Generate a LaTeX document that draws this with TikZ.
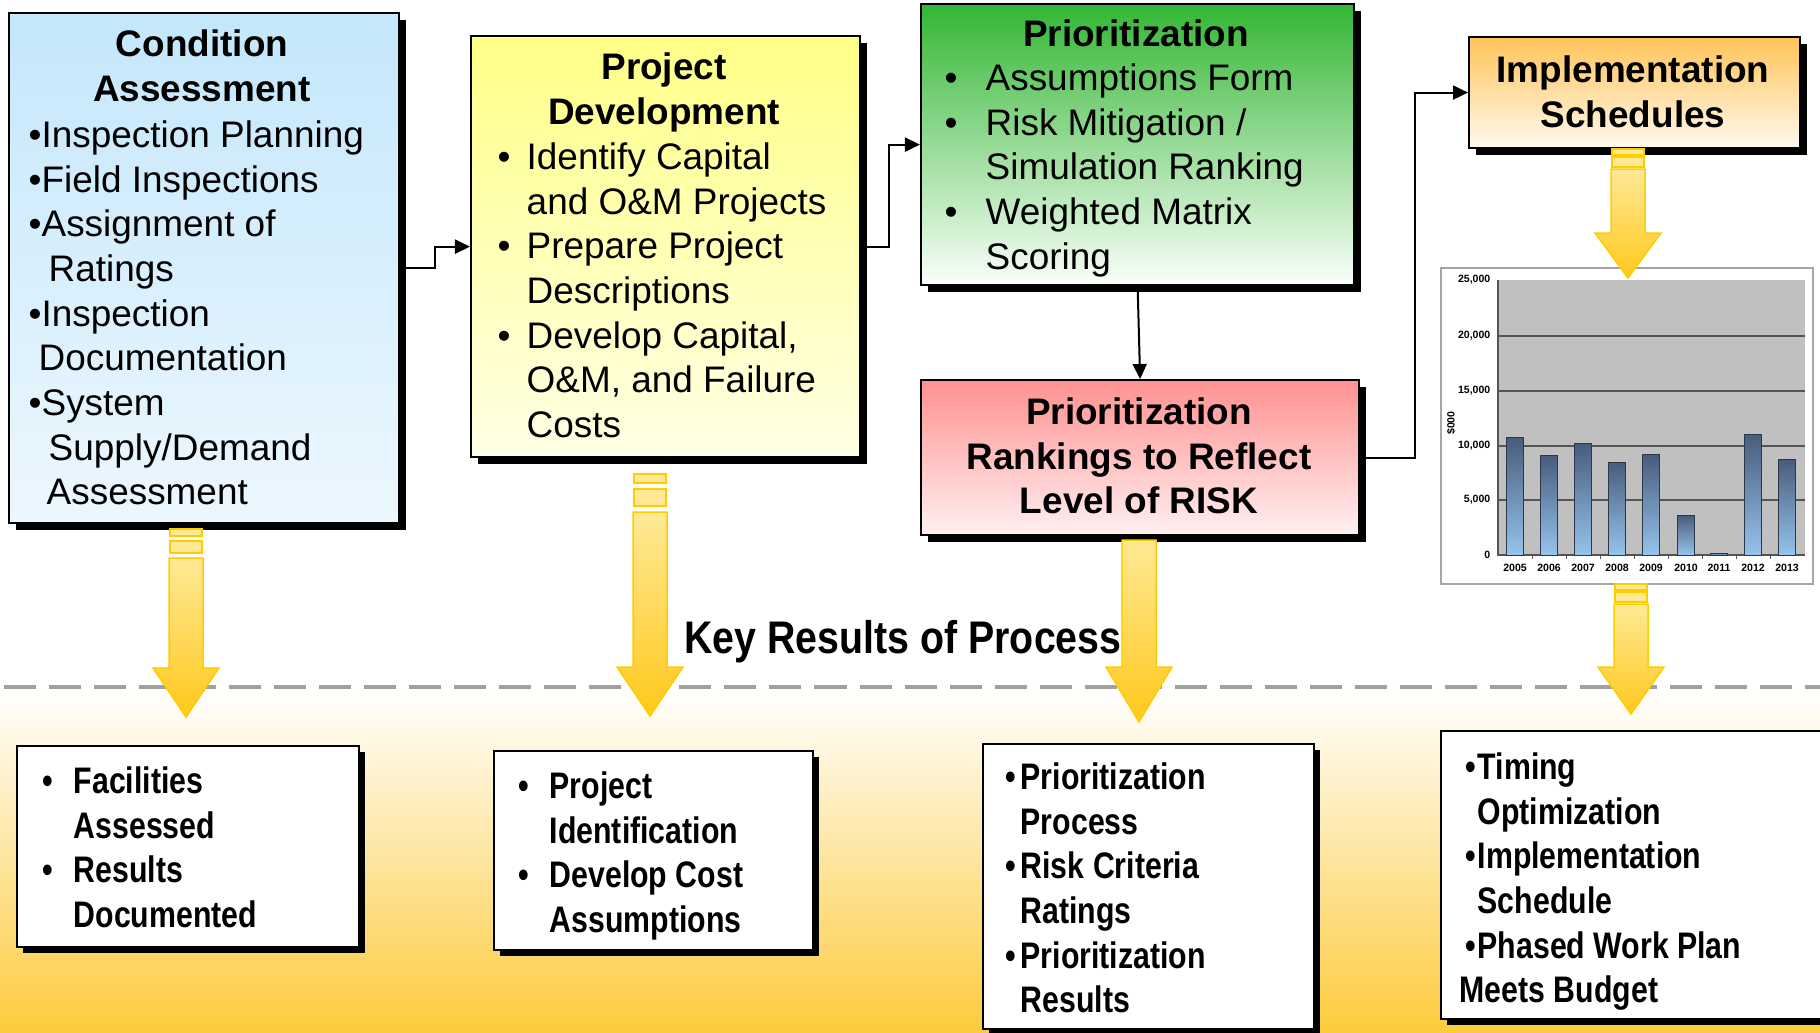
\documentclass[tikz,border=0pt]{standalone}
\usepackage{fontspec}
\setmainfont{Liberation Sans}
\newfontfamily\condfont[FakeStretch=0.82]{Liberation Sans}
\newfontfamily\keyfont[FakeStretch=0.86]{Liberation Sans}
\usetikzlibrary{arrows.meta,shadows}

\definecolor{blueTop}{RGB}{196,231,251}
\definecolor{blueBot}{RGB}{236,247,254}
\definecolor{yelTop}{RGB}{255,255,135}
\definecolor{yelBot}{RGB}{255,255,228}
\definecolor{grnTop}{RGB}{52,182,52}
\definecolor{grnBot}{RGB}{250,255,250}
\definecolor{redTop}{RGB}{255,145,145}
\definecolor{redBot}{RGB}{255,240,240}
\definecolor{orgTop}{RGB}{255,196,88}
\definecolor{orgBot}{RGB}{255,249,238}
\definecolor{arrowLight}{RGB}{255,233,150}
\definecolor{arrowGold}{RGB}{255,200,28}
\definecolor{arrowLine}{RGB}{255,204,0}
\definecolor{bgGold}{RGB}{253,203,60}
\definecolor{dashGray}{RGB}{160,160,160}
\definecolor{plotGray}{RGB}{192,192,192}
\definecolor{gridDark}{RGB}{85,85,85}
\definecolor{barTop}{RGB}{72,92,124}
\definecolor{barBot}{RGB}{150,195,236}
\definecolor{barEdge}{RGB}{45,55,75}

\newcommand\bul[1]{\makebox[#1][l]{•}}
\newcommand\yarrow[4]{\path[yarrow] (#1-17,#2) -- (#1+17,#2) -- (#1+17,#3) -- (#1+33,#3) -- (#1,#4) -- (#1-33,#3) -- (#1-17,#3) -- cycle;}
\newcommand\ystub[3]{\path[ystubstyle] (#1-16,#2) rectangle (#1+16,#3);}

\begin{document}
\begin{tikzpicture}[x=0.01cm,y=-0.01cm,
  procbox/.style={draw=black, line width=0.02cm, inner sep=0pt, anchor=north west,
    drop shadow={shadow xshift=0.065cm, shadow yshift=-0.065cm, fill=black, opacity=1}},
  resbox/.style={draw=black, line width=0.015cm, fill=white, inner sep=0pt, anchor=north west,
    drop shadow={shadow xshift=0.06cm, shadow yshift=-0.06cm, fill=black, opacity=1}},
  ttl/.style={anchor=north, align=center, inner sep=0pt, font=\bfseries\fontsize{10.5}{12.7}\selectfont},
  body/.style={anchor=north west, align=left, inner sep=0pt, font=\fontsize{10.5}{12.7}\selectfont},
  resbody/.style={anchor=north west, align=left, inner sep=0pt, font=\condfont\bfseries\fontsize{10.5}{12.7}\selectfont},
  conn/.style={draw=black, line width=0.02cm, -{Triangle[length=0.15cm,width=0.14cm]}},
  yarrow/.style={draw=arrowLine, line width=0.015cm, top color=arrowLight, bottom color=arrowGold},
  ystubstyle/.style={draw=arrowLine, line width=0.015cm, fill=arrowLight},
  ticklab/.style={inner sep=0pt, font=\bfseries\fontsize{3}{3.5}\selectfont},
  barstyle/.style={draw=barEdge, line width=0.01cm, top color=barTop, bottom color=barBot}
]
\useasboundingbox (0,0) rectangle (1820,1032);
\fill[white] (0,0) rectangle (1820,1032);
% lower band
\shade[top color=white, bottom color=bgGold] (0,690) rectangle (1820,1032);
\draw[dashGray, line width=0.035cm, dash pattern=on 0.32cm off 0.13cm] (4,687) -- (1820,687);

% process boxes
\node[procbox, top color=blueTop, bottom color=blueBot, minimum width=3.90cm, minimum height=5.10cm] (cond) at (8,12) {};
\node[procbox, top color=yelTop, bottom color=yelBot, minimum width=3.89cm, minimum height=4.21cm] (proj) at (470,35) {};
\node[procbox, top color=grnTop, bottom color=grnBot, minimum width=4.33cm, minimum height=2.81cm] (prio) at (920,3) {};
\node[procbox, top color=redTop, bottom color=redBot, minimum width=4.38cm, minimum height=1.55cm] (rank) at (920,379) {};
\node[procbox, top color=orgTop, bottom color=orgBot, minimum width=3.31cm, minimum height=1.11cm] (impl) at (1468,36) {};

% box texts
\node[ttl] (condT) at (202,29) {Condition\\Assessment};
\node[body] (condB) at (28,120) {•Inspection Planning\\•Field Inspections\\•Assignment of\\\hspace*{0.20cm}Ratings\\•Inspection\\\hspace*{0.10cm}Documentation\\•System\\\hspace*{0.20cm}Supply/Demand\\\hspace*{0.18cm}Assessment};

\node[ttl] (projT) at (664,52) {Project\\Development};
\node[body] (projB) at (497,142) {\bul{0.29cm}Identify Capital\\\hspace*{0.29cm}and O\&M Projects\\\bul{0.29cm}Prepare Project\\\hspace*{0.29cm}Descriptions\\\bul{0.29cm}Develop Capital,\\\hspace*{0.29cm}O\&M, and Failure\\\hspace*{0.29cm}Costs};

\node[ttl] (prioT) at (1136,19) {Prioritization};
\node[body] (prioB) at (944,63) {\bul{0.41cm}Assumptions Form\\\bul{0.41cm}Risk Mitigation /\\\hspace*{0.41cm}Simulation Ranking\\\bul{0.41cm}Weighted Matrix\\\hspace*{0.41cm}Scoring};

\node[ttl] (rankT) at (1139,397) {Prioritization\\Rankings to Reflect\\Level of RISK};
\node[ttl] (implT) at (1633,55) {Implementation\\Schedules};

% chart
\node[draw=gray!70, line width=0.015cm, fill=white, inner sep=0pt, anchor=north west, minimum width=3.72cm, minimum height=3.16cm] (chart) at (1440,267) {};
\fill[plotGray] (1498,280) rectangle (1805,555);
\foreach \gy in {336,391,446,500}
  \draw[gridDark, line width=0.02cm] (1498,\gy) -- (1805,\gy);
\draw[gridDark, line width=0.015cm] (1498,280) -- (1498,555) -- (1805,555);
\foreach \tx in {1532,1566,1600,1634,1668,1702,1736,1770}
  \draw[gridDark, line width=0.01cm] (\tx,555) -- (\tx,559);
\foreach \cx/\ty in {1515/437,1549/455,1583/443,1617/462,1651/454,1686/515,1719/553,1753/434,1787/459}
  \path[barstyle] (\cx-8.5,\ty) rectangle (\cx+8.5,555);
\foreach \gy/\lab [count=\i] in {280/{25,000},336/{20,000},391/{15,000},446/{10,000},500/{5,000},555/{0}}
  \node[ticklab, anchor=east] (ylab\i) at (1491,\gy) {\lab};
\foreach \cx/\yr [count=\i] in {1515/2005,1549/2006,1583/2007,1617/2008,1651/2009,1686/2010,1719/2011,1753/2012,1787/2013}
  \node[ticklab] (xlab\i) at (\cx,568) {\yr};
\node[ticklab, rotate=90] (ytitle) at (1451,423) {\$000};

% connectors
\draw[conn] (cond.east) -- ++(35,0) |- (proj.west);
\draw[conn] (proj.east) -- ++(28,0) |- (prio.west);
\draw[conn] (prio.south) -- (rank.north);
\draw[conn] (rank.east) -- ++(55,0) |- (impl.west);

% key results heading
\node[anchor=north, inner sep=0pt, font=\keyfont\bfseries\fontsize{13}{15}\selectfont] (key) at (903,620) {Key Results of Process};

% block arrows
\ystub{186}{529}{536}\ystub{186}{541}{553}
\yarrow{186}{558}{668}{717}
\ystub{650}{474}{483}\ystub{650}{489}{506}
\yarrow{650}{512}{667}{716}
\yarrow{1139}{540}{667}{722}
\ystub{1628}{149}{155}\ystub{1628}{157}{167}
\yarrow{1628}{169}{233}{278}
\ystub{1631}{584}{590}\ystub{1631}{592}{602}
\yarrow{1631}{604}{667}{714}

% result boxes
\node[resbox, minimum width=3.42cm, minimum height=2.01cm] (res1) at (16,745) {};
\node[resbox, minimum width=3.19cm, minimum height=1.99cm] (res2) at (493,750) {};
\node[resbox, minimum width=3.31cm, minimum height=2.85cm] (res3) at (982,743) {};
\node[resbox, minimum width=4.00cm, minimum height=2.88cm] (res4) at (1440,730) {};

\node[resbody] (res1B) at (42,766) {\bul{0.31cm}Facilities\\\hspace*{0.31cm}Assessed\\\bul{0.31cm}Results\\\hspace*{0.31cm}Documented};
\node[resbody] (res2B) at (518,771) {\bul{0.31cm}Project\\\hspace*{0.31cm}Identification\\\bul{0.31cm}Develop Cost\\\hspace*{0.31cm}Assumptions};
\node[resbody] (res3B) at (1005,762) {\bul{0.15cm}Prioritization\\\hspace*{0.15cm}Process\\\bul{0.15cm}Risk Criteria\\\hspace*{0.15cm}Ratings\\\bul{0.15cm}Prioritization\\\hspace*{0.15cm}Results};
\node[resbody] (res4B) at (1459,752) {\hspace*{0.06cm}\bul{0.12cm}Timing\\\hspace*{0.18cm}Optimization\\\hspace*{0.06cm}\bul{0.12cm}Implementation\\\hspace*{0.18cm}Schedule\\\hspace*{0.06cm}\bul{0.12cm}Phased Work Plan\\Meets Budget};
\end{tikzpicture}
\end{document}
